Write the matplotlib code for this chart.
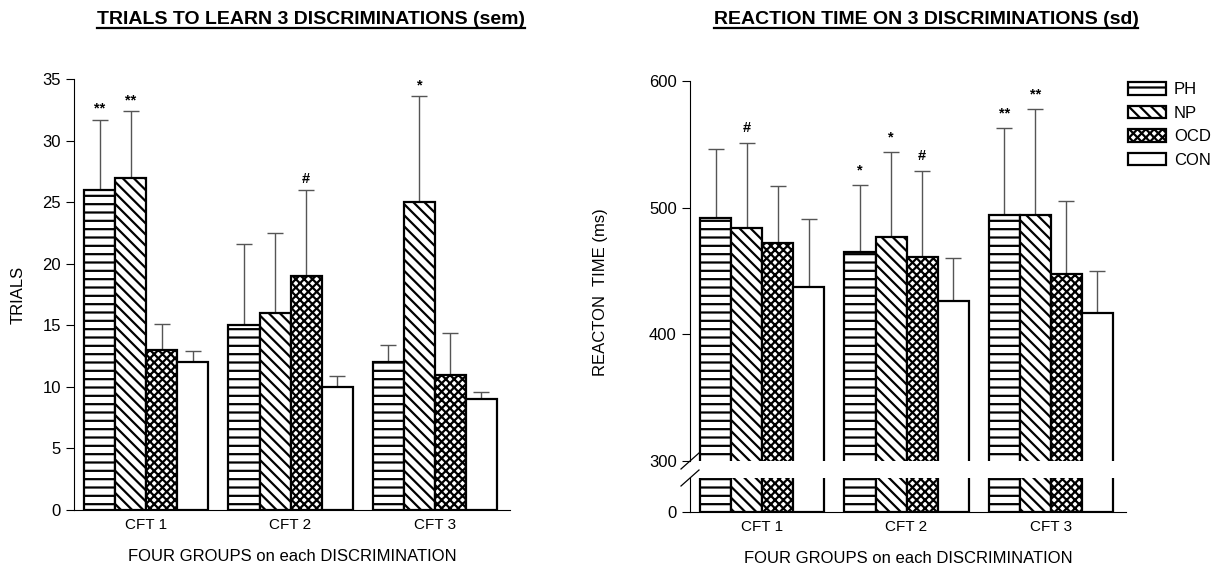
import numpy as np
import matplotlib
matplotlib.use("Agg")
import matplotlib.pyplot as plt

plt.rcParams['font.family'] = ['Liberation Sans', 'DejaVu Sans']
plt.rcParams['hatch.linewidth'] = 1.6

groups = ['PH', 'NP', 'OCD', 'CON']
hatches = ['--', '\\\\\\', 'xxxx', '']
cft = ['CFT 1', 'CFT 2', 'CFT 3']

# trials to learn (mean, upper sem)
trials = {
    'PH':  [26, 15, 12],
    'NP':  [27, 16, 25],
    'OCD': [13, 19, 11],
    'CON': [12, 10, 9],
}
trials_err = {
    'PH':  [5.7, 6.6, 1.4],
    'NP':  [5.4, 6.5, 8.6],
    'OCD': [2.1, 7.0, 3.4],
    'CON': [0.9, 0.9, 0.6],
}
trials_marks = {
    'PH':  ['**', '', ''],
    'NP':  ['**', '', '*'],
    'OCD': ['', '#', ''],
    'CON': ['', '', ''],
}

# reaction time (mean, sd)
rt = {
    'PH':  [492, 465, 494],
    'NP':  [484, 477, 494],
    'OCD': [472, 461, 448],
    'CON': [437, 426, 417],
}
rt_err = {
    'PH':  [54, 53, 69],
    'NP':  [67, 67, 84],
    'OCD': [45, 68, 57],
    'CON': [54, 34, 33],
}
rt_marks = {
    'PH':  ['', '*', '**'],
    'NP':  ['#', '*', '**'],
    'OCD': ['', '#', ''],
    'CON': ['', '', ''],
}

W = 1224
H = 571
fig = plt.figure(figsize=(W / 100, H / 100), dpi=100)

def fx(px):
    return px / W

def fy(px):
    return 1 - px / H

bw = 0.215
x = np.arange(len(cft))
offs = (np.arange(4) - 1.5) * bw
err_col = '#555555'


def draw_bars(ax, vals, errs, marks, mark_pad, show_err=True):
    for i, g in enumerate(groups):
        xs = x + offs[i]
        ax.bar(xs, vals[g], width=bw, color='white', edgecolor='black',
               hatch=hatches[i], linewidth=1.6, zorder=3)
        if show_err:
            ax.errorbar(xs, vals[g], yerr=[np.zeros(3), errs[g]], fmt='none',
                        ecolor=err_col, elinewidth=1.0, capsize=6, capthick=1.0, zorder=2)
            for j in range(3):
                if marks[g][j]:
                    ax.text(xs[j], vals[g][j] + errs[g][j] + mark_pad, marks[g][j],
                            ha='center', va='bottom', fontsize=10.5, fontweight='bold')


def style(ax):
    ax.spines['top'].set_visible(False)
    ax.spines['right'].set_visible(False)
    ax.tick_params(axis='y', direction='out', length=6, labelsize=12, width=0.8)
    ax.tick_params(axis='x', length=0, labelsize=11, pad=6)
    ax.set_xlim(-0.5, 2.52)


# ---- left chart ----
axL = fig.add_axes([fx(74), fy(510), fx(510) - fx(74), fy(79) - fy(510)])
draw_bars(axL, trials, trials_err, trials_marks, 0.3)
style(axL)
axL.set_ylim(0, 35)
axL.set_yticks(np.arange(0, 36, 5))
axL.set_xticks(x)
axL.set_xticklabels(cft)
axL.set_ylabel('TRIALS', fontsize=12, labelpad=12)
axL.set_xlabel('FOUR GROUPS on each DISCRIMINATION', fontsize=12, labelpad=12)

# ---- right chart (broken axis) ----
rl, rr = fx(690), fx(1126)
axU = fig.add_axes([rl, fy(461), rr - rl, fy(81) - fy(461)])
axB = fig.add_axes([rl, fy(512), rr - rl, fy(478) - fy(512)], sharex=axU)

draw_bars(axU, rt, rt_err, rt_marks, 6)
draw_bars(axB, rt, rt_err, rt_marks, 6, show_err=False)
style(axU)
style(axB)
axU.set_ylim(300, 600)
axU.set_yticks([300, 400, 500, 600])
axU.spines['bottom'].set_visible(False)
axU.tick_params(axis='x', bottom=False, labelbottom=False)
axB.set_ylim(0, 60)
axB.set_yticks([0])
axB.set_xticks(x)
axB.set_xticklabels(cft)
axB.set_xlabel('FOUR GROUPS on each DISCRIMINATION', fontsize=12, labelpad=12)
fig.text(fx(600), fy(292), 'REACTON  TIME (ms)', rotation=90, fontsize=12,
         ha='center', va='center')

# break marks on the y axis
for yb in (461, 478):
    fig.add_artist(plt.Line2D([fx(681), fx(699)], [fy(yb + 8), fy(yb - 8)],
                              color='black', linewidth=0.9))

# legend
hnd = [plt.Rectangle((0, 0), 1, 1, facecolor='white', edgecolor='black',
                     hatch=hatches[i], linewidth=1.6) for i in range(4)]
fig.legend(hnd, groups, loc='upper left', bbox_to_anchor=(fx(1128), fy(82)),
           frameon=False, fontsize=12, handlelength=2.3, handleheight=0.8,
           labelspacing=0.5, handletextpad=0.45, borderpad=0, borderaxespad=0)

# underlined bold titles
t1 = fig.text(fx(311), fy(20), 'TRIALS TO LEARN 3 DISCRIMINATIONS (sem)',
              fontsize=14, fontweight='bold', ha='center', va='center')
t2 = fig.text(fx(926), fy(20), 'REACTION TIME ON 3 DISCRIMINATIONS (sd)',
              fontsize=14, fontweight='bold', ha='center', va='center')
fig.canvas.draw()
r = fig.canvas.get_renderer()
for t in (t1, t2):
    bb = t.get_window_extent(renderer=r)
    yl = bb.y0 + 1
    fig.add_artist(plt.Line2D([bb.x0 / W, bb.x1 / W], [yl / H, yl / H],
                              color='black', linewidth=1.6))

fig.savefig('out.png', dpi=100)
